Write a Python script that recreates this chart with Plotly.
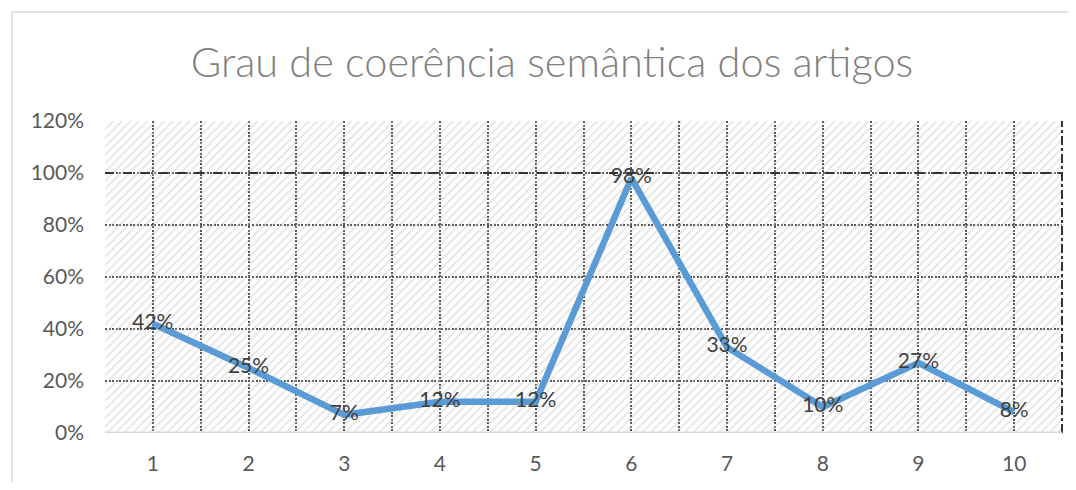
import plotly.graph_objects as go

categories = [1, 2, 3, 4, 5, 6, 7, 8, 9, 10]
values = [0.42, 0.25, 0.07, 0.12, 0.12, 0.98, 0.33, 0.10, 0.27, 0.08]
labels = ["42%", "25%", "7%", "12%", "12%", "98%", "33%", "10%", "27%", "8%"]
title = "Grau de coerência semântica dos artigos"
y_max = 1.2
ref_line = 1.0

# page body has an 8px margin; lay out in figure coordinates accordingly
OFF = 8
W, H = 1076 - 2 * OFF, 490 - 2 * OFF
ml = 105 - OFF
mt = 121 - OFF
plot_right = 1062 - OFF
plot_bottom = 433 - OFF
mr = W - plot_right
mb = H - plot_bottom
pw, ph = W - ml - mr, H - mt - mb

FONT = "Lato, Open Sans, sans-serif"
GRID_DASH = "2px,1.5px"
GRID_COLOR = "#555555"

fig = go.Figure()

# hatched background of the plot area
fig.add_trace(go.Bar(
    x=[(categories[0] + categories[-1]) / 2], y=[y_max], width=[len(categories)],
    marker=dict(color="rgba(0,0,0,0)", line=dict(width=0),
                pattern=dict(shape="/", fgcolor="#c4c4c4", size=6, solidity=0.25)),
    hoverinfo="skip", showlegend=False,
))

fig.add_trace(go.Scatter(
    x=categories, y=values, mode="lines+text",
    line=dict(color="#5B9BD5", width=6.5),
    text=labels, textposition="middle center",
    textfont=dict(family=FONT, size=21, color="#404040"),
    showlegend=False,
))

fig.add_hline(y=ref_line, line=dict(color="#333333", width=2, dash="dash"), layer="above")
# right border of plot area (dash-dot)
fig.add_shape(type="line", xref="paper", yref="paper", x0=1, x1=1, y0=0, y1=1,
              line=dict(color="#333333", width=2, dash="dashdot"), layer="above")

grid = dict(showgrid=True, gridcolor=GRID_COLOR, gridwidth=1.5, griddash=GRID_DASH)

fig.update_xaxes(
    range=[categories[0] - 0.5, categories[-1] + 0.5],
    tickvals=categories, ticktext=[str(c) for c in categories],
    tickfont=dict(family=FONT, size=21, color="#595959"),
    ticks="", ticklabelstandoff=16,
    minor=dict(dtick=0.5, tick0=0.5, showgrid=True, gridcolor=GRID_COLOR, gridwidth=1.5, griddash=GRID_DASH),
    showline=False, zeroline=False, **grid,
)
fig.update_yaxes(
    range=[0, y_max], dtick=0.2, tickformat=".0%",
    tickfont=dict(family=FONT, size=21, color="#595959"),
    ticks="", ticklabelstandoff=20, zeroline=False, **grid,
)

# x-axis baseline
fig.add_shape(type="line", xref="paper", yref="y", x0=0, x1=1, y0=0, y1=0,
              line=dict(color="#d9d9d9", width=3), layer="above")
# chart outer border
fig.add_shape(type="rect", xref="paper", yref="paper",
              x0=(12 - OFF - ml) / pw, x1=(W + 20 - ml) / pw,
              y0=-(mb + 20) / ph, y1=1 + (mt - (12 - OFF)) / ph,
              line=dict(color="#d9d9d9", width=1.5))

fig.update_layout(
    width=W, height=H,
    margin=dict(l=ml, r=mr, t=mt, b=mb),
    paper_bgcolor="white", plot_bgcolor="white",
    title=dict(text=title, x=(552 - OFF) / W, xref="container", xanchor="center",
               y=1 - (62 - OFF) / H, yanchor="middle",
               font=dict(family=FONT, size=41.5, color="#808080", weight=300)),
    bargap=0,
)

fig.write_html("out.html")
